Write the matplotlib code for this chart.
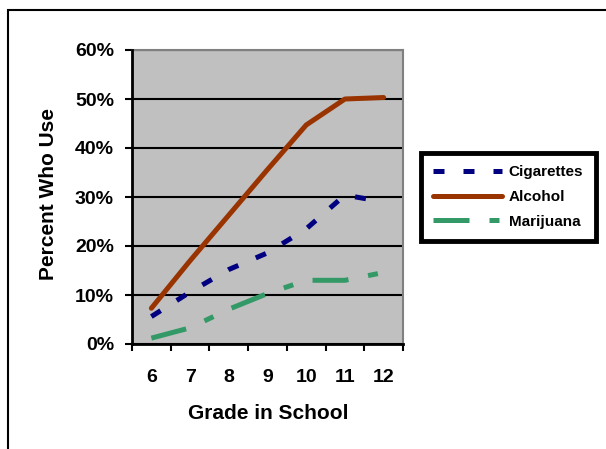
import matplotlib
matplotlib.use("Agg")
import matplotlib.pyplot as plt
from matplotlib.patches import Rectangle
from matplotlib.ticker import FixedLocator, FuncFormatter

plt.rcParams['font.family'] = ['Liberation Sans', 'DejaVu Sans']
plt.rcParams['font.weight'] = 'bold'

grades = ['6', '7', '8', '9', '10', '11', '12']
cigarettes = [5.6, 10.6, 15.2, 18.6, 23.5, 30.4, 29.0]
alcohol = [7.3, 17.0, 26.3, 35.6, 44.7, 50.0, 50.3]
marijuana = [1.2, 3.3, 7.1, 10.3, 13.0, 13.0, 14.6]

W, H = 606, 449
fig = plt.figure(figsize=(W / 100, H / 100), dpi=100)
ax = fig.add_axes([132 / W, 1 - 344 / H, 271 / W, 294 / H])
ax.set_facecolor('#C0C0C0')

x = list(range(len(grades)))
ax.plot(x, cigarettes, color='#000080', lw=3.6, dashes=(2.2, 3.8),
        dash_capstyle='butt', label='Cigarettes', zorder=3)
ax.plot(x, alcohol, color='#993300', lw=3.6, solid_capstyle='round',
        solid_joinstyle='round', label='Alcohol', zorder=3)
ax.plot(x, marijuana, color='#339966', lw=3.6, dashes=(7.2, 4, 2, 4),
        dash_capstyle='butt', label='Marijuana', zorder=3)

ax.set_xlim(-0.5, len(grades) - 0.5)
ax.set_ylim(0, 60)
ax.set_yticks(range(0, 61, 10))
ax.yaxis.set_major_formatter(FuncFormatter(lambda v, p: '%d%%' % v))
ax.set_xticks(x)
ax.set_xticklabels(grades)
ax.xaxis.set_minor_locator(FixedLocator([i - 0.5 for i in range(len(grades) + 1)]))

ax.tick_params(axis='x', which='major', length=0, pad=18, labelsize=14)
ax.tick_params(axis='x', which='minor', length=5, width=1.5, direction='out')
ax.tick_params(axis='y', length=5, width=1.5, direction='out', pad=8, labelsize=14)

ax.grid(axis='y', color='black', lw=1.5)
ax.set_axisbelow(True)
for s in ['left', 'bottom']:
    ax.spines[s].set_color('black')
    ax.spines[s].set_linewidth(2)
    ax.spines[s].set_zorder(4)
for s in ['top', 'right']:
    ax.spines[s].set_color('#808080')
    ax.spines[s].set_linewidth(1.5)

ax.set_ylabel('Percent Who Use', fontsize=15, fontweight='bold')
ax.yaxis.set_label_coords(-0.273, 0.51)
ax.set_xlabel('Grade in School', fontsize=15, fontweight='bold')
ax.xaxis.set_label_coords(0.502, -0.205)

leg = fig.legend(loc='upper left', bbox_to_anchor=(421 / W, 1 - 153 / H),
                 borderaxespad=0, fontsize=11, handlelength=4.5,
                 handletextpad=0.45, labelspacing=0.7, borderpad=0.8,
                 fancybox=False, framealpha=1)
leg.get_frame().set_edgecolor('black')
leg.get_frame().set_linewidth(3.5)

# outer chart border, running off the right and bottom edges
fig.patches.append(Rectangle((8 / W, -0.1), 1.2, 1 - 10 / H + 0.1,
                             transform=fig.transFigure, fill=False,
                             edgecolor='black', lw=1.5))

fig.savefig('out.png', dpi=100)
